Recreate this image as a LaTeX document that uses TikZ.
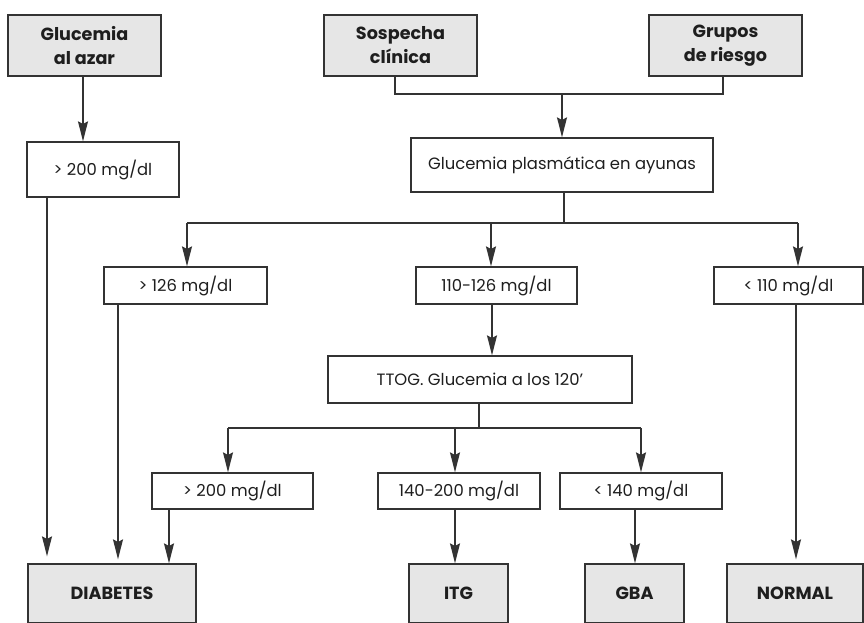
\documentclass[tikz,border=0pt]{standalone}
\usepackage{fontspec}
\setmainfont{Poppins}
\usetikzlibrary{arrows.meta}
\definecolor{linec}{HTML}{333333}
\definecolor{boxgray}{HTML}{E6E6E6}
\definecolor{textc}{HTML}{1E1E1E}
\newcommand{\regfont}{\fontsize{12.3}{15}\selectfont}
\newcommand{\boldfont}{\fontsize{13.2}{18}\selectfont\bfseries}
\tikzset{
  base/.style={draw=linec, line width=1pt, inner sep=0pt, align=center, text=textc},
  gbox/.style={base, fill=boxgray, font=\boldfont},
  wbox/.style={base, fill=white, font=\regfont},
  conn/.style={draw=linec, line width=1pt},
  arr/.style={conn, -{Stealth[length=15pt, width=7.5pt, inset=2pt]}},
}
% box from its corners (in px): style, name, x1, y1, x2, y2, text
\newcommand{\bx}[7]{%
  \pgfmathsetmacro{\bxcx}{(#3+#5)/2}%
  \pgfmathsetmacro{\bxcy}{(#4+#6)/2}%
  \pgfmathsetmacro{\bxw}{(#5-#3)*0.75}%
  \pgfmathsetmacro{\bxh}{(#6-#4)*0.75}%
  \node[#1, minimum width=\bxw pt, minimum height=\bxh pt] (#2) at (\bxcx,\bxcy) {#7};}
\begin{document}
\begin{tikzpicture}[x=0.75pt, y=-0.75pt]
\useasboundingbox (0,0) rectangle (864,622);

% entry boxes
\bx{gbox}{azar}{8}{15}{161}{76}{Glucemia\\al azar}
\bx{gbox}{sosp}{324}{15}{477}{76}{Sospecha\\clínica}
\bx{gbox}{grup}{649}{15}{802}{76}{Grupos\\de riesgo}

% first tests
\bx{wbox}{az200}{27}{142}{179}{197}{> 200 mg/dl}
\bx{wbox}{plas}{411}{138}{713}{192}{Glucemia plasmática en ayunas}

% fasting glucose results
\bx{wbox}{g126}{104}{267}{267}{304}{> 126 mg/dl}
\bx{wbox}{g110}{416}{267}{577}{304}{110-126 mg/dl}
\bx{wbox}{l110}{714}{267}{863}{304}{< 110 mg/dl}

% oral glucose tolerance test
\bx{wbox}{ttog}{328}{356}{632}{403}{TTOG. Glucemia a los 120’}

% TTOG results
\bx{wbox}{t200}{152}{473}{313}{509}{> 200 mg/dl}
\bx{wbox}{t140}{378}{473}{540}{509}{140-200 mg/dl}
\bx{wbox}{l140}{560}{473}{722}{509}{< 140 mg/dl}

% diagnoses
\bx{gbox}{diab}{28}{564}{196}{623}{DIABETES}
\bx{gbox}{itg}{409}{564}{508}{623}{ITG}
\bx{gbox}{gba}{585}{564}{684}{623}{GBA}
\bx{gbox}{norm}{727}{564}{863}{623}{NORMAL}

% junction and column coordinates
\coordinate (cs) at (395,94);
\coordinate (cg) at (723,94);
\coordinate (jtop) at (562,94);
\coordinate (j2) at (564,223);
\coordinate (a1) at (187,223);
\coordinate (a2) at (491,223);
\coordinate (a3) at (798,223);
\coordinate (j3) at (479,428);
\coordinate (b1) at (228,428);
\coordinate (b2) at (455,428);
\coordinate (b3) at (641,428);
\coordinate (xaz) at (83,0);
\coordinate (d1) at (47,0);
\coordinate (d2) at (118,0);
\coordinate (d3) at (169,0);
\coordinate (xt) at (492,0);
\coordinate (xi) at (455,0);
\coordinate (xg) at (635,0);
\coordinate (xn) at (796,0);

% random glucose branch
\draw[arr] (azar.south -| xaz) -- (az200.north -| xaz);
\draw[arr, shorten >=5.25pt] (az200.south -| d1) -- (diab.north -| d1);

% clinical suspicion / risk groups join
\draw[conn] (sosp.south -| cs) -- (cs) -- (cg) -- (grup.south -| cg);
\draw[arr] (jtop) -- (plas.north -| jtop);

% fasting glucose split
\draw[conn] (plas.south -| j2) -- (j2);
\draw[conn] (a1) -- (a3);
\draw[arr] (a1) -- (g126.north -| a1);
\draw[arr] (a2) -- (g110.north -| a2);
\draw[arr] (a3) -- (l110.north -| a3);

\draw[arr, shorten >=3pt] (g126.south -| d2) -- (diab.north -| d2);
\draw[arr] (g110.south -| xt) -- (ttog.north -| xt);
\draw[arr, shorten >=3pt] (l110.south -| xn) -- (norm.north -| xn);

% TTOG split
\draw[conn] (ttog.south -| j3) -- (j3);
\draw[conn] (b1) -- (b3);
\draw[arr] (b1) -- (t200.north -| b1);
\draw[arr] (b2) -- (t140.north -| b2);
\draw[arr] (b3) -- (l140.north -| b3);

\draw[arr] (t200.south -| d3) -- (diab.north -| d3);
\draw[arr] (t140.south -| xi) -- (itg.north -| xi);
\draw[arr] (l140.south -| xg) -- (gba.north -| xg);
\end{tikzpicture}
\end{document}
